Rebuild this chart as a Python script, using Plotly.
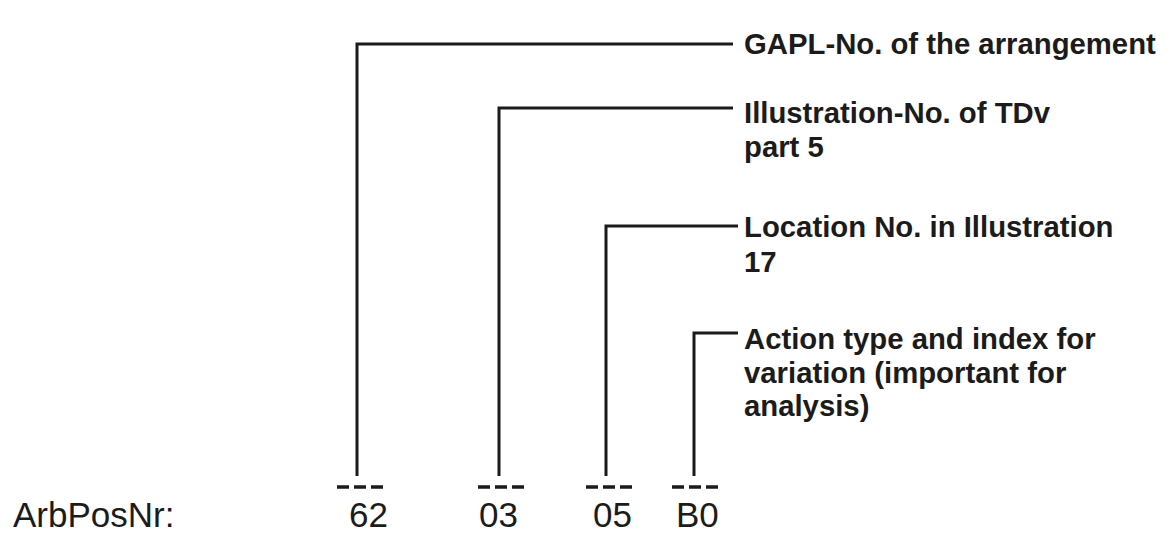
import plotly.graph_objects as go

# ---- content ----
prefix = "ArbPosNr:"
codes = ["62", "03", "05", "B0"]
descriptions = [
    ["GAPL-No. of the arrangement"],
    ["Illustration-No. of TDv", "part 5"],
    ["Location No. in Illustration", "17"],
    ["Action type and index for", "variation (important for", "analysis)"],
]

# ---- geometry (pixel coordinates on the 1170x535 window) ----
W, H = 1170, 535
OFF = 8  # default page body margin; the figure starts at (8, 8)
code_x = [368, 498, 612, 697]
code_y = 514
dash_x = [360, 501, 609, 695]
dash_y = 487
dash_half = 23
stem_x = [357, 499, 606, 694]
stem_bottom = 476
leader_y = [44, 108, 226, 333]
leader_end_x = [733, 733, 738, 738]
label_x = 742
label_line_y = [[43], [112, 146], [226, 261], [338, 372, 405]]

FONT = "Liberation Sans, Arial, Helvetica, sans-serif"
INK = "#1b1b1b"

fig = go.Figure()

# leader lines: vertical stem + horizontal run to the label
for sx, ly, ex in zip(stem_x, leader_y, leader_end_x):
    fig.add_trace(go.Scatter(
        x=[sx, sx, ex], y=[stem_bottom, ly, ly],
        mode="lines", line=dict(color=INK, width=3),
        hoverinfo="skip", showlegend=False))

# dashed placeholders above each code
for dx in dash_x:
    fig.add_trace(go.Scatter(
        x=[dx - dash_half, dx + dash_half], y=[dash_y, dash_y],
        mode="lines", line=dict(color=INK, width=3.5, dash="12px,5px"),
        hoverinfo="skip", showlegend=False))

annotations = []
annotations.append(dict(x=12, y=code_y, text=prefix, xanchor="left", yanchor="middle",
                        showarrow=False, borderpad=0,
                        font=dict(family=FONT, size=35, color=INK)))
for cx, c in zip(code_x, codes):
    annotations.append(dict(x=cx, y=code_y, text=c, xanchor="center", yanchor="middle",
                            showarrow=False, borderpad=0,
                            font=dict(family=FONT, size=35, color=INK)))
for lines, ys in zip(descriptions, label_line_y):
    for t, yy in zip(lines, ys):
        annotations.append(dict(x=label_x, y=yy, text="<b>" + t + "</b>",
                                xanchor="left", yanchor="middle", showarrow=False,
                                font=dict(family=FONT, size=29.3, color=INK)))

fig.update_layout(
    width=W - OFF, height=H - OFF,
    margin=dict(l=0, r=0, t=0, b=0),
    paper_bgcolor="white", plot_bgcolor="white",
    xaxis=dict(range=[OFF, W], visible=False, fixedrange=True),
    yaxis=dict(range=[H, OFF], visible=False, fixedrange=True),
    annotations=annotations,
    showlegend=False,
)

fig.write_html("out.html", config={"displayModeBar": False})
